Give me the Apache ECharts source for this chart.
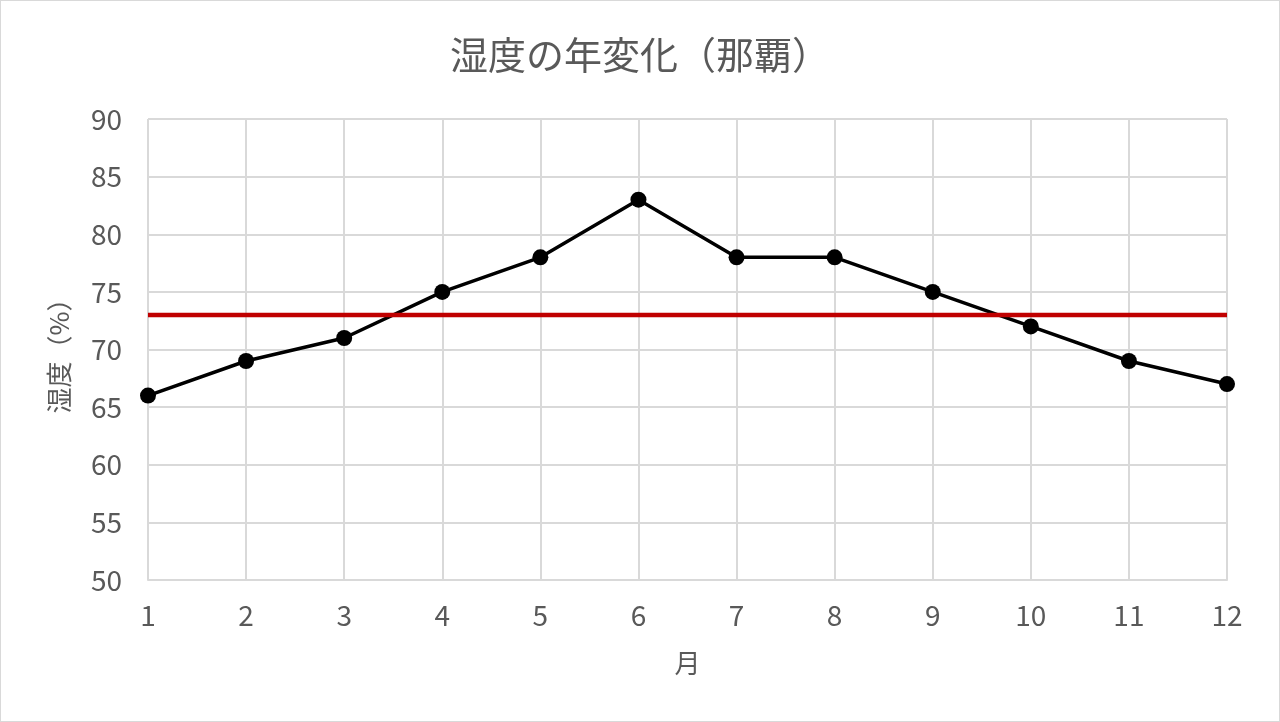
<!DOCTYPE html>
<html><head><meta charset="utf-8">
<script src="https://cdn.jsdelivr.net/npm/echarts@6/dist/echarts.min.js"></script>
<style>
html,body{margin:0;padding:0;background:#fff;}
#c{width:1280px;height:722px;box-sizing:border-box;border:1px solid #d9d9d9;}
</style></head><body>
<div id="c"></div>
<script>
const months = ['1','2','3','4','5','6','7','8','9','10','11','12'];
const humidity = [66,69,71,75,78,83,78,78,75,72,69,67];
const average = [73,73,73,73,73,73,73,73,73,73,73,73];
const titleText = '湿度の年変化（那覇）';
const xName = '月';
const yName = '湿度（%）';

const chart = echarts.init(document.getElementById('c'), null, {renderer:'canvas'});
const font = '"Noto Sans CJK JP", "Noto Sans", sans-serif';
chart.setOption({
  animation:false,
  title:{text:titleText,left:'center',top:30,textStyle:{fontFamily:font,fontSize:38,fontWeight:'normal',color:'#595959'}},
  grid:{left:147,right:52,top:118,bottom:141,containLabel:false},
  xAxis:{type:'category',data:months,boundaryGap:false,
    name:xName,nameLocation:'middle',nameGap:70,nameTextStyle:{fontFamily:font,fontSize:26,color:'#595959'},
    axisLine:{lineStyle:{color:'#d9d9d9',width:2}},axisTick:{show:false},
    axisLabel:{fontFamily:font,fontSize:28,color:'#595959',margin:21},
    splitLine:{show:true,lineStyle:{color:'#d9d9d9',width:2}}},
  yAxis:{type:'value',min:50,max:90,interval:5,
    name:yName,nameLocation:'middle',nameGap:76,nameRotate:90,nameTextStyle:{fontFamily:font,fontSize:26,color:'#595959'},
    axisLine:{show:false},axisTick:{show:false},
    axisLabel:{fontFamily:font,fontSize:28,color:'#595959',margin:26,padding:[6,0,0,0]},
    splitLine:{lineStyle:{color:'#d9d9d9',width:2}}},
  series:[
    {type:'line',data:humidity,symbol:'circle',symbolSize:16,lineStyle:{color:'#000',width:3.5},itemStyle:{color:'#000'},z:2},
    {type:'line',data:average,symbol:'none',lineStyle:{color:'#C00000',width:4.5},z:3}
  ]
});
</script></body></html>
